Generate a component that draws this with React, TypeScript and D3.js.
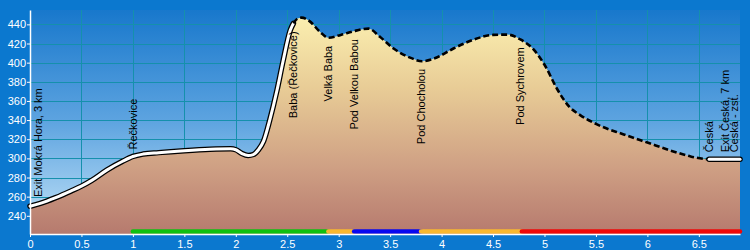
import { useRef, useEffect } from 'react'
import * as d3 from 'd3'

// distance along the route (km) and elevation (m)
const profileKm = [0, 0.1, 0.25, 0.4, 0.5, 0.6, 0.75, 0.9, 1.0, 1.1, 1.25, 1.5, 1.75, 1.95, 2.0, 2.06, 2.12, 2.17, 2.22, 2.27, 2.33, 2.4, 2.46, 2.53, 2.56, 2.6, 2.64, 2.71, 2.82, 2.9, 3.02, 3.15, 3.29, 3.4, 3.53, 3.7, 3.81, 3.92, 4.12, 4.31, 4.5, 4.64, 4.77, 4.9, 5.01, 5.12, 5.24, 5.35, 5.51, 5.77, 6.0, 6.26, 6.42, 6.55, 6.6, 6.9]
const profileElev = [250, 253, 259, 266, 271, 277, 288, 297, 302, 304.5, 306, 308, 309.5, 310, 309, 305, 303, 304, 309, 318, 340, 371, 402, 434, 441, 446, 447, 444, 432, 426, 429, 433, 435.5, 427, 415, 405, 401.5, 404, 415, 424, 429, 429.3, 424, 413, 396, 373, 354, 345, 335.5, 325, 316.5, 307, 302, 299.5, 299, 299]

// waypoints
const waypointNames = ['Exit Mokrá Hora, 3 km', 'Řečkovice', 'Baba (Řečkovice)', 'Velká Baba', 'Pod Velkou Babou', 'Pod Chocholou', 'Pod Sychrovem', 'Česká', 'Exit Česká, 7 km', 'Česká - zst.']
const waypointKm = [0.075, 1.0, 2.56, 2.9, 3.15, 3.8, 4.76, 6.6, 6.75, 6.84]

// line style sections of the profile
const sectionFrom = [0, 2.56, 6.6]
const sectionTo = [2.56, 6.6, 6.9]
const sectionKind = ['solid', 'dashed', 'solid']

// coloured bar under the profile
const barFrom = [1.0, 2.9, 3.15, 3.8, 4.78]
const barTo = [2.9, 3.15, 3.8, 4.78, 6.9]
const barColor = ['#10c010', '#f8b830', '#0808f0', '#f8b830', '#f00808']

const xTicks = [0, 0.5, 1, 1.5, 2, 2.5, 3, 3.5, 4, 4.5, 5, 5.5, 6, 6.5]
const yTicks = [240, 260, 280, 300, 320, 340, 360, 380, 400, 420, 440]

const FONT = "Arial, 'Liberation Sans', sans-serif"

export default function App() {
  const svgRef = useRef<SVGSVGElement>(null)
  const width = 750
  const height = 250

  useEffect(() => {
    document.body.style.margin = '0'
    if (!svgRef.current) return
    const svg = d3.select(svgRef.current)
    svg.selectAll('*').remove()

    const left = 30, right = 740, top = 10, bottom = 234

    const x = d3.scaleLinear().domain([0, 6.9]).range([left, right])
    const y = d3.scaleLinear().domain([221, 455]).range([bottom, top])

    const data = profileKm.map((k, i) => ({ km: k, elev: profileElev[i] }))

    const defs = svg.append('defs')
    const sky = defs.append('linearGradient').attr('id', 'sky')
      .attr('gradientUnits', 'userSpaceOnUse')
      .attr('x1', 0).attr('x2', 0).attr('y1', top).attr('y2', bottom)
    sky.append('stop').attr('offset', 0).attr('stop-color', '#1878cc')
    sky.append('stop').attr('offset', 0.5).attr('stop-color', '#5ea4e0')
    sky.append('stop').attr('offset', 1).attr('stop-color', '#c4e4f8')

    const ground = defs.append('linearGradient').attr('id', 'ground')
      .attr('gradientUnits', 'userSpaceOnUse')
      .attr('x1', 0).attr('x2', 0).attr('y1', top).attr('y2', bottom)
    ground.append('stop').attr('offset', 0).attr('stop-color', '#fdf2b2')
    ground.append('stop').attr('offset', 0.35).attr('stop-color', '#e8cc96')
    ground.append('stop').attr('offset', 0.7).attr('stop-color', '#cfa084')
    ground.append('stop').attr('offset', 1).attr('stop-color', '#b67a6e')

    // background
    svg.append('rect').attr('width', width).attr('height', height).attr('fill', '#0b78cf')
    svg.append('rect')
      .attr('x', left).attr('y', top)
      .attr('width', right - left).attr('height', bottom - top)
      .attr('fill', 'url(#sky)')

    // grid
    const grid = svg.append('g').attr('stroke', '#1590ac').attr('stroke-width', 1)
    grid.selectAll('.gx')
      .data(xTicks.filter(t => t > 0))
      .enter().append('line')
      .attr('x1', d => Math.round(x(d)) + 0.5).attr('x2', d => Math.round(x(d)) + 0.5)
      .attr('y1', top).attr('y2', bottom)
    grid.selectAll('.gy')
      .data(yTicks)
      .enter().append('line')
      .attr('x1', left).attr('x2', right)
      .attr('y1', d => Math.round(y(d)) + 0.5).attr('y2', d => Math.round(y(d)) + 0.5)

    // terrain
    const area = d3.area<{ km: number; elev: number }>()
      .x(d => x(d.km))
      .y0(bottom)
      .y1(d => y(d.elev))
      .curve(d3.curveMonotoneX)
    svg.append('path').datum(data).attr('d', area).attr('fill', 'url(#ground)')

    // profile line
    const line = d3.line<{ km: number; elev: number }>()
      .x(d => x(d.km))
      .y(d => y(d.elev))
      .curve(d3.curveMonotoneX)

    sectionKind.forEach((kind, i) => {
      const pts = data.filter(d => d.km >= sectionFrom[i] && d.km <= sectionTo[i])
      if (kind === 'solid') {
        svg.append('path').datum(pts).attr('d', line)
          .attr('fill', 'none').attr('stroke', '#000').attr('stroke-width', 5.5)
          .attr('stroke-linecap', 'round').attr('stroke-linejoin', 'round')
        svg.append('path').datum(pts).attr('d', line)
          .attr('fill', 'none').attr('stroke', '#fff').attr('stroke-width', 3)
          .attr('stroke-linecap', 'round').attr('stroke-linejoin', 'round')
      } else {
        svg.append('path').datum(pts).attr('d', line)
          .attr('fill', 'none').attr('stroke', '#000').attr('stroke-width', 2.6)
          .attr('stroke-dasharray', '6,3')
      }
    })

    // coloured bar
    svg.append('g').selectAll('line')
      .data(barColor)
      .enter().append('line')
      .attr('x1', (_, i) => x(barFrom[i]))
      .attr('x2', (_, i) => x(barTo[i]))
      .attr('y1', 231.5).attr('y2', 231.5)
      .attr('stroke', d => d)
      .attr('stroke-width', 4.5)
      .attr('stroke-linecap', 'round')

    // axes
    const yAxis = svg.append('g')
      .attr('transform', `translate(${left},0)`)
      .call(d3.axisLeft(y).tickValues(yTicks).tickSize(3).tickSizeOuter(0).tickPadding(1))
    const xAxis = svg.append('g')
      .attr('transform', `translate(0,${bottom})`)
      .call(d3.axisBottom(x).tickValues(xTicks).tickSize(3).tickSizeOuter(0).tickPadding(3)
        .tickFormat(d => String(d)))
    ;[yAxis, xAxis].forEach(a => {
      a.select('.domain').attr('stroke', '#fff').attr('stroke-width', 1.5)
      a.selectAll('.tick line').attr('stroke', '#fff')
      a.selectAll('.tick text').attr('fill', '#fff').attr('font-size', 11).attr('font-family', FONT)
    })

    // waypoint labels
    const elevAt = (k: number) => {
      const i = d3.bisector((d: { km: number }) => d.km).left(data, k)
      if (i <= 0) return data[0].elev
      if (i >= data.length) return data[data.length - 1].elev
      const a = data[i - 1], b = data[i]
      return a.elev + (b.elev - a.elev) * (k - a.km) / (b.km - a.km)
    }

    waypointNames.forEach((name, i) => {
      const px = x(waypointKm[i]) + 4
      const py = y(elevAt(waypointKm[i]))
      const t = svg.append('text')
        .attr('font-family', FONT)
        .attr('font-size', 11)
        .attr('fill', '#000')
        .text(name)
      const len = (t.node() as SVGTextElement).getComputedTextLength()
      let start = py - 7
      if (start - len < top + 2) start = py + 8 + len
      t.attr('transform', `translate(${px},${start}) rotate(-90)`)
    })
  }, [])

  return (
    <svg
      ref={svgRef}
      width={width}
      height={height}
      style={{ display: 'block' }}
    />
  )
}
